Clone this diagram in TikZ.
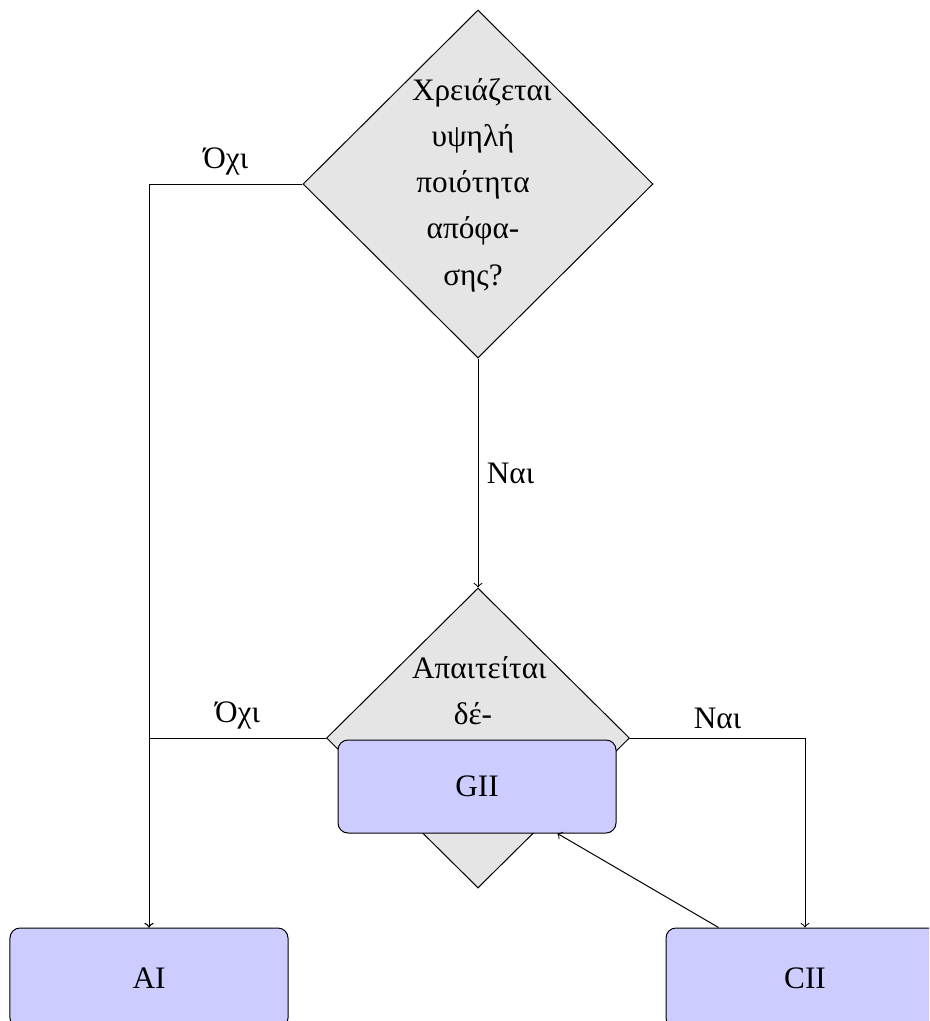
\documentclass[tikz,border=0pt]{standalone}
\usepackage{fontspec}
\setmainfont{Liberation Serif}
\usetikzlibrary{shapes.geometric}
\begin{document}
\begin{tikzpicture}[x=0.4pt,y=-0.4pt,
  font=\fontsize{12.5}{18.5}\selectfont,
  decision/.style={diamond, draw, fill=black!10, inner sep=0pt},
  qtext/.style={text width=48.8pt, align=center, inner sep=0pt},
  action/.style={rectangle, draw, rounded corners=4pt, fill=blue!20,
    minimum width=111.2pt, minimum height=37.2pt},
  tall/.style={minimum height=40pt},
  flow/.style={->}
]
\clip (0,0) rectangle (929,1021);

% decisions
\node[decision, minimum width=140pt, minimum height=139.2pt] (d1) at (478,184) {};
\node[qtext, anchor=base] (q1) at (473,100) {Χρειάζεται\\υψηλή\\ποιότητα\\απόφα-\\σης?};
\node[decision, minimum width=121.2pt, minimum height=120pt] (d2) at (478,738) {};
\node[qtext, anchor=base] (q2) at (473,678) {Απαιτείται\\δέ-};

% outcomes (the lower two run past the bottom edge)
\node[action] (gii) at (477,786.5) {GII};
\node[action, tall] (ai) at (149,978) {AI};
\node[action, tall] (cii) at (805,978) {CII};

% connectors
\draw[flow] (d1.west) -| node[pos=0.25, above] {Όχι} (ai.north);
\draw[flow] (d1.south) -- node[right] {Ναι} (d2.north);
\draw[flow] (d2.west) -| node[pos=0.25, above] {Όχι} (ai.north);
\draw[flow] (d2.east) -| node[pos=0.25, above] {Ναι} (cii.north);
\draw[flow] (cii) -- (gii);
\end{tikzpicture}
\end{document}
